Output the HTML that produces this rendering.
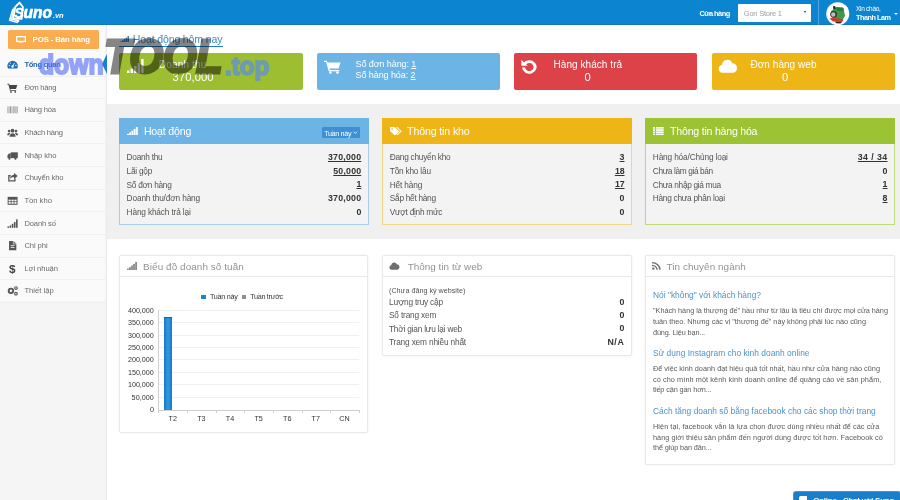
<!DOCTYPE html>
<html>
<head>
<meta charset="utf-8">
<title>Suno.vn</title>
<style>
*{box-sizing:border-box;margin:0;padding:0}
html,body{width:900px;height:500px;overflow:hidden;background:#fff}
body{font-family:"Liberation Sans",sans-serif;font-size:10px;color:#444;position:relative;filter:blur(.5px)}
.a{position:absolute}
.t{position:absolute;white-space:nowrap;line-height:1}
u{text-decoration:underline}
</style>
</head>
<body>
<div class="a" style="left:0.00px;top:0.00px;width:900.00px;height:25.00px;background:#0c85d0;"></div>
<div class="a" style="left:0.00px;top:24.00px;width:900.00px;height:1.00px;background:#1179ba;"></div>
<svg class="a" style="left:0.00px;top:0.00px" width="70.00" height="25.00" viewBox="0 0 70 25" ><g fill="none" stroke="#fff" stroke-linejoin="round" stroke-linecap="round">
<path d="M12.800 9.500 L9.600 20.200 L17 22.400 L18.600 20.800" stroke-width="1.500"/>
<path d="M14 8 L11.600 19.400 L18.600 20.800" stroke-width="1.300"/>
<path d="M15.300 6.800 L19.500 2.600 L22.900 7 L21.600 18.900 L13.300 18.700 Z" stroke-width="1.900" fill="#0c85d0"/></g>
<text x="14.500" y="17.700" font-family="Liberation Sans" font-weight="bold" font-style="italic" font-size="13.800" fill="#fff" stroke="#fff" stroke-width=".5">S</text>
<text x="23.600" y="17.500" font-family="Liberation Sans" font-weight="bold" font-style="italic" font-size="16.800" fill="#fff" stroke="#fff" stroke-width=".7" textLength="28.400" lengthAdjust="spacingAndGlyphs">uno</text>
<text x="52.900" y="17.500" font-family="Liberation Sans" font-weight="bold" font-style="italic" font-size="7.200" fill="#fff" textLength="10.800" lengthAdjust="spacingAndGlyphs">.vn</text></svg>
<div class="t" style="left:699.40px;top:9.94px;font-size:7.40px;color:#fff;letter-spacing:-0.531px;font-weight:bold;">Cửa hàng</div>
<div class="a" style="left:738.00px;top:3.60px;width:73.40px;height:18.80px;background:#fff;border-radius:1px"></div>
<div class="t" style="left:743.80px;top:10.05px;font-size:7.50px;color:#a0a0a0;letter-spacing:-0.222px;">Gon Store 1</div>
<div class="a" style="left:803.80px;top:11.40px;width:0;height:0;border-left:1.900px solid transparent;border-right:1.900px solid transparent;border-top:2.600px solid #222"></div>
<div class="a" style="left:818.30px;top:0.00px;width:1.00px;height:25.00px;background:#4fa6e0;"></div>
<svg class="a" style="left:826.00px;top:1.50px" width="23.50" height="23.50" viewBox="0 0 23.500 23.500" ><circle cx="11.750" cy="11.750" r="11.500" fill="#fdfdfd"/>
<path d="M5 9.500 L9 5.500 L17.500 6 L19 14 L16 18.500 L7 17 Z" fill="#3f9a48"/>
<path d="M10 5 L17 5.500 L18 9 L11 9 Z" fill="#2c7d3a"/>
<circle cx="7.600" cy="12.300" r="3.400" fill="#2f3338"/>
<circle cx="7.300" cy="12.500" r="2.200" fill="#b9bec4"/>
<path d="M3.500 16.500 L8 15.500 L17.500 17.500 L16 20 L7 19.500 Z" fill="#cf3a2e"/>
<path d="M7 4.200 L9.300 4 L9.600 7 L7.300 7.300 Z" fill="#23272b"/>
<path d="M9 19.500 L16 20 L14.500 21.500 L10 21.200 Z" fill="#2b2f34"/></svg>
<div class="t" style="left:856.00px;top:5.90px;font-size:6.50px;color:#fff;letter-spacing:-0.278px;">Xin chào,</div>
<div class="t" style="left:856.00px;top:14.02px;font-size:7.30px;color:#fff;letter-spacing:-0.492px;font-weight:bold;">Thanh Lam</div>
<div class="a" style="left:893.60px;top:13.20px;width:0;height:0;border-left:2.100px solid transparent;border-right:2.100px solid transparent;border-top:2.600px solid #fff"></div>
<div class="a" style="left:0.00px;top:25.00px;width:106.00px;height:475.00px;background:#f5f5f5;"></div>
<div class="a" style="left:0.00px;top:25.00px;width:106.00px;height:275.60px;background:#fafafa;"></div>
<div class="a" style="left:105.00px;top:25.00px;width:1.00px;height:475.00px;background:#f3f3f3;"></div>
<div class="a" style="left:106.00px;top:25.00px;width:1.00px;height:475.00px;background:#ebebeb;"></div>
<div class="a" style="left:8.10px;top:30.10px;width:90.80px;height:18.90px;background:#f9ad50;border-radius:1.500px"></div>
<svg class="a" style="left:16.00px;top:35.60px" width="10.00" height="7.60" viewBox="0 0 10 7.600" ><rect x=".65" y=".65" width="8.700" height="4.800" fill="none" stroke="#fff" stroke-width="1.300"/><rect x="3.200" y="6.400" width="3.600" height="1.200" fill="#fff"/></svg>
<div class="t" style="left:32.60px;top:36.40px;font-size:7.80px;color:#fff;letter-spacing:-0.110px;font-weight:bold;">POS - Bán hàng</div>
<svg class="a" style="left:7.00px;top:59.20px" width="11.20" height="11.20" viewBox="0 0 12 12" ><path d="M6 1.800a5.600 5.600 0 0 0-5.600 5.600c0 1.100.3 2 .8 2.800h9.600c.5-.8.800-1.700.8-2.800A5.600 5.600 0 0 0 6 1.800z" fill="#1f6db3"/><circle cx="6" cy="8" r="1.300" fill="#fafafa"/><path d="M6 8 L8 4.300" stroke="#fafafa" stroke-width="1"/><circle cx="2.500" cy="7" r=".7" fill="#fafafa"/><circle cx="3.600" cy="4.400" r=".7" fill="#fafafa"/><circle cx="9.500" cy="7" r=".7" fill="#fafafa"/></svg>
<div class="t" style="left:24.40px;top:61.17px;font-size:7.60px;color:#2365ad;letter-spacing:-0.281px;font-weight:bold;">Tổng quan</div>
<div class="a" style="left:0.00px;top:75.61px;width:106.00px;height:1.00px;background:#f0f0f0;"></div>
<svg class="a" style="left:7.00px;top:81.82px" width="11.20" height="11.20" viewBox="0 0 12 12" ><path d="M0.500 2h1.800l.4 1.300h8.300l-1.300 4.200H3.600l.3 1h6v1H3.200L1.600 3H.5z" fill="#444"/><circle cx="4.300" cy="10.600" r=".9" fill="#444"/><circle cx="8.800" cy="10.600" r=".9" fill="#444"/></svg>
<div class="t" style="left:24.40px;top:83.79px;font-size:7.60px;color:#6a6a6a;letter-spacing:-0.227px;">Đơn hàng</div>
<div class="a" style="left:0.00px;top:98.23px;width:106.00px;height:1.00px;background:#f0f0f0;"></div>
<svg class="a" style="left:7.00px;top:104.44px" width="11.20" height="11.20" viewBox="0 0 12 12" ><g fill="#9a9a9a"><rect x=".5" y="2.500" width="1" height="7.500"/><rect x="2" y="2.500" width=".6" height="7.500"/><rect x="3.200" y="2.500" width="1.200" height="7.500"/><rect x="5" y="2.500" width=".6" height="7.500"/><rect x="6.200" y="2.500" width="1" height="7.500"/><rect x="7.800" y="2.500" width=".6" height="7.500"/><rect x="9" y="2.500" width="1.200" height="7.500"/><rect x="10.800" y="2.500" width=".7" height="7.500"/></g></svg>
<div class="t" style="left:24.40px;top:106.41px;font-size:7.60px;color:#6a6a6a;letter-spacing:-0.182px;">Hàng hóa</div>
<div class="a" style="left:0.00px;top:120.85px;width:106.00px;height:1.00px;background:#f0f0f0;"></div>
<svg class="a" style="left:7.00px;top:127.06px" width="11.20" height="11.20" viewBox="0 0 12 12" ><g fill="#555"><circle cx="6" cy="4" r="2"/><path d="M2.800 10.500c0-2.400 1.300-3.800 3.200-3.800s3.200 1.400 3.200 3.800z"/><circle cx="2.300" cy="4.300" r="1.400"/><circle cx="9.700" cy="4.300" r="1.400"/><path d="M.2 8.800c0-1.600.9-2.600 2.200-2.600.5 0 .9.100 1.200.4-.8.600-1.300 1.400-1.400 2.200z"/><path d="M11.800 8.800c0-1.600-.9-2.600-2.200-2.600-.5 0-.9.100-1.200.4.800.6 1.300 1.400 1.400 2.200z"/></g></svg>
<div class="t" style="left:24.40px;top:129.03px;font-size:7.60px;color:#6a6a6a;letter-spacing:-0.206px;">Khách hàng</div>
<div class="a" style="left:0.00px;top:143.47px;width:106.00px;height:1.00px;background:#f0f0f0;"></div>
<svg class="a" style="left:7.00px;top:149.68px" width="11.20" height="11.20" viewBox="0 0 12 12" ><g fill="#555"><rect x="4" y="2.500" width="7.600" height="6.200"/><path d="M.5 5.800L2 3.800h2v4.900H.5z"/><circle cx="2.600" cy="9.300" r="1.200"/><circle cx="9" cy="9.300" r="1.200"/></g></svg>
<div class="t" style="left:24.40px;top:151.65px;font-size:7.60px;color:#6a6a6a;letter-spacing:-0.066px;">Nhập kho</div>
<div class="a" style="left:0.00px;top:166.09px;width:106.00px;height:1.00px;background:#f0f0f0;"></div>
<svg class="a" style="left:7.00px;top:172.30px" width="11.20" height="11.20" viewBox="0 0 12 12" ><path d="M8.500 6.800v2.800h-6.500v-5.600h2" fill="none" stroke="#555" stroke-width="1.400"/><path d="M7.500 1l4 3.200-4 3.200v-2c-2.200 0-3.400.8-4.200 2.300.2-3 1.600-4.600 4.200-4.800z" fill="#555"/></svg>
<div class="t" style="left:24.40px;top:174.27px;font-size:7.60px;color:#6a6a6a;letter-spacing:-0.156px;">Chuyển kho</div>
<div class="a" style="left:0.00px;top:188.71px;width:106.00px;height:1.00px;background:#f0f0f0;"></div>
<svg class="a" style="left:7.00px;top:194.92px" width="11.20" height="11.20" viewBox="0 0 12 12" ><rect x=".7" y="2" width="10.600" height="8.500" fill="#555"/><g fill="#fafafa"><rect x="1.700" y="5" width="2.300" height="1.800"/><rect x="4.800" y="5" width="2.300" height="1.800"/><rect x="7.900" y="5" width="2.300" height="1.800"/><rect x="1.700" y="7.600" width="2.300" height="1.800"/><rect x="4.800" y="7.600" width="2.300" height="1.800"/><rect x="7.900" y="7.600" width="2.300" height="1.800"/></g></svg>
<div class="t" style="left:24.40px;top:196.89px;font-size:7.60px;color:#6a6a6a;letter-spacing:0.006px;">Tồn kho</div>
<div class="a" style="left:0.00px;top:211.33px;width:106.00px;height:1.00px;background:#f0f0f0;"></div>
<svg class="a" style="left:7.00px;top:217.54px" width="11.20" height="11.20" viewBox="0 0 12 12" ><g fill="#555"><rect x=".5" y="9" width="1.700" height="1.500"/><rect x="2.800" y="8" width="1.700" height="2.500"/><rect x="5.100" y="6.300" width="1.700" height="4.200"/><rect x="7.400" y="4.300" width="1.700" height="6.200"/><rect x="9.700" y="1.500" width="1.700" height="9"/></g></svg>
<div class="t" style="left:24.40px;top:219.51px;font-size:7.60px;color:#6a6a6a;letter-spacing:-0.129px;">Doanh số</div>
<div class="a" style="left:0.00px;top:233.95px;width:106.00px;height:1.00px;background:#f0f0f0;"></div>
<svg class="a" style="left:7.00px;top:240.16px" width="11.20" height="11.20" viewBox="0 0 12 12" ><path d="M2.200 1h4.800l3 3v7h-7.800z" fill="#555"/><path d="M4 6h4M4 8h4" stroke="#fafafa" stroke-width=".9"/><path d="M6.800 1v3.200h3.200" fill="none" stroke="#fafafa" stroke-width=".7"/></svg>
<div class="t" style="left:24.40px;top:242.13px;font-size:7.60px;color:#6a6a6a;letter-spacing:-0.083px;">Chi phí</div>
<div class="a" style="left:0.00px;top:256.57px;width:106.00px;height:1.00px;background:#f0f0f0;"></div>
<svg class="a" style="left:7.00px;top:262.78px" width="11.20" height="11.20" viewBox="0 0 12 12" ><text x="2.200" y="11" font-family="Liberation Sans" font-weight="bold" font-size="12.500" fill="#444">$</text></svg>
<div class="t" style="left:24.40px;top:264.75px;font-size:7.60px;color:#6a6a6a;letter-spacing:-0.071px;">Lợi nhuận</div>
<div class="a" style="left:0.00px;top:279.19px;width:106.00px;height:1.00px;background:#f0f0f0;"></div>
<svg class="a" style="left:7.00px;top:285.40px" width="11.20" height="11.20" viewBox="0 0 12 12" ><g fill="#555"><circle cx="4.200" cy="6.300" r="3.400"/><circle cx="9.600" cy="3.300" r="2"/><circle cx="9.600" cy="9.300" r="2"/></g><circle cx="4.200" cy="6.300" r="1.400" fill="#fafafa"/><circle cx="9.600" cy="3.300" r=".8" fill="#fafafa"/><circle cx="9.600" cy="9.300" r=".8" fill="#fafafa"/></svg>
<div class="t" style="left:24.40px;top:287.37px;font-size:7.60px;color:#6a6a6a;letter-spacing:0.039px;">Thiết lập</div>
<div class="a" style="left:0.00px;top:301.81px;width:106.00px;height:1.00px;background:#f0f0f0;"></div>
<div class="a" style="left:101.80px;top:53.50px;width:0;height:0;border-top:10.200px solid transparent;border-bottom:10.200px solid transparent;border-right:5.400px solid #1b7fcb"></div>
<svg class="a" style="left:119.80px;top:35.60px" width="9.20" height="6.80" viewBox="0 0 10 10" preserveAspectRatio="none"><g fill="#3d87c6"><rect x="0" y="8" width="1.800" height="2"/><rect x="2.050" y="6.300" width="1.800" height="3.700"/><rect x="4.100" y="4.300" width="1.800" height="5.700"/><rect x="6.150" y="2.300" width="1.800" height="7.700"/><rect x="8.200" y="0" width="1.800" height="10"/></g></svg>
<div class="t" style="left:132.80px;top:33.63px;font-size:10.60px;color:#4189c7;letter-spacing:-0.177px;">Hoạt động hôm nay</div>
<div class="a" style="left:119.00px;top:45.60px;width:104.00px;height:1.80px;background:#1b7fcb;"></div>
<div class="a" style="left:119.00px;top:53.00px;width:183.80px;height:37.00px;background:#9cbe30;border-radius:2px"></div>
<div class="a" style="left:317.00px;top:53.00px;width:183.40px;height:37.00px;background:#6cb4e6;border-radius:2px"></div>
<div class="a" style="left:513.80px;top:53.00px;width:183.20px;height:37.00px;background:#dd4249;border-radius:2px"></div>
<div class="a" style="left:711.80px;top:53.00px;width:183.20px;height:37.00px;background:#edb515;border-radius:2px"></div>
<svg class="a" style="left:126.70px;top:59.30px" width="17.30" height="14.00" viewBox="0 0 18 16" preserveAspectRatio="none"><g fill="#fff"><rect x="0" y="13" width="2.500" height="3"/><rect x="3.700" y="11" width="2.500" height="5"/><rect x="7.400" y="8" width="2.500" height="8"/><rect x="11.100" y="4.500" width="2.500" height="11.500"/><rect x="14.800" y="0" width="2.500" height="16"/></g></svg>
<div class="t" style="left:158.80px;top:59.53px;font-size:10.00px;color:#fff;letter-spacing:0.173px;">Doanh thu</div>
<div class="t" style="left:172.50px;top:71.52px;font-size:11.20px;color:#fff;letter-spacing:0.103px;">370,000</div>
<svg class="a" style="left:323.70px;top:59.60px" width="17.30" height="14.10" viewBox="0 0 19 17" preserveAspectRatio="none"><path d="M0 .8h3.200l.7 2.200h14.300l-2.200 7.400H6l.5 1.600h10.300v1.600H5.200L2.300 2.400H0z" fill="#fff"/><circle cx="7" cy="15.200" r="1.500" fill="#fff"/><circle cx="14.800" cy="15.200" r="1.500" fill="#fff"/></svg>
<div class="t" style="left:355.50px;top:60.38px;font-size:9.00px;color:#fff;letter-spacing:-0.089px;">Số đơn hàng: <u>1</u></div>
<div class="t" style="left:355.50px;top:71.38px;font-size:9.00px;color:#fff;letter-spacing:-0.075px;">Số hàng hóa: <u>2</u></div>
<svg class="a" style="left:520.80px;top:59.00px" width="16.60" height="15.40" viewBox="0 0 16 16" preserveAspectRatio="none"><path d="M3.300 5.200A5.600 5.600 0 1 1 2.400 8.800" fill="none" stroke="#fff" stroke-width="2.900"/><path d="M.3 .8v6.200h6.200z" fill="#fff"/></svg>
<div class="t" style="left:553.50px;top:59.63px;font-size:10.00px;color:#fff;letter-spacing:0.063px;">Hàng khách trả</div>
<div class="t" style="left:584.59px;top:71.52px;font-size:11.20px;color:#fff;">0</div>
<svg class="a" style="left:718.40px;top:58.80px" width="19.80" height="13.80" viewBox="0 0 20 14" preserveAspectRatio="none"><path d="M4.500 14a4 4 0 0 1-.6-7.900A5.500 5.500 0 0 1 14.500 4.300 4.900 4.900 0 0 1 15.200 14z" fill="#fff"/></svg>
<div class="t" style="left:750.50px;top:59.63px;font-size:10.00px;color:#fff;letter-spacing:0.043px;">Đơn hàng web</div>
<div class="t" style="left:782.09px;top:71.52px;font-size:11.20px;color:#fff;">0</div>
<div class="a" style="left:107.00px;top:104.30px;width:793.00px;height:134.30px;background:#f0f0f0;"></div>
<div class="a" style="left:119.00px;top:117.80px;width:249.60px;height:107.40px;background:#f3f3f3;border:1px solid #a6cdee"></div>
<div class="a" style="left:119.00px;top:117.80px;width:249.60px;height:25.80px;background:#6cb4e6;"></div>
<svg class="a" style="left:127.30px;top:126.50px" width="10.80" height="8.60" viewBox="0 0 10 10" preserveAspectRatio="none"><g fill="#fff"><rect x="0" y="8" width="1.800" height="2"/><rect x="2.050" y="6.300" width="1.800" height="3.700"/><rect x="4.100" y="4.300" width="1.800" height="5.700"/><rect x="6.150" y="2.300" width="1.800" height="7.700"/><rect x="8.200" y="0" width="1.800" height="10"/></g></svg>
<div class="t" style="left:143.90px;top:125.93px;font-size:10.60px;color:#fff;letter-spacing:-0.168px;">Hoạt động</div>
<div class="t" style="left:126.60px;top:153.47px;font-size:8.30px;color:#555;letter-spacing:-0.278px;">Doanh thu</div>
<div class="t" style="left:328.00px;top:153.35px;font-size:8.80px;color:#333;letter-spacing:0.213px;font-weight:bold;text-decoration:underline;">370,000</div>
<div class="t" style="left:126.60px;top:167.02px;font-size:8.30px;color:#555;letter-spacing:-0.247px;">Lãi gộp</div>
<div class="t" style="left:333.30px;top:166.90px;font-size:8.80px;color:#333;letter-spacing:0.181px;font-weight:bold;text-decoration:underline;">50,000</div>
<div class="t" style="left:126.60px;top:180.57px;font-size:8.30px;color:#555;letter-spacing:-0.264px;">Số đơn hàng</div>
<div class="t" style="left:356.41px;top:180.45px;font-size:8.80px;color:#333;font-weight:bold;text-decoration:underline;">1</div>
<div class="t" style="left:126.60px;top:194.12px;font-size:8.30px;color:#555;letter-spacing:-0.142px;">Doanh thu/đơn hàng</div>
<div class="t" style="left:328.00px;top:194.00px;font-size:8.80px;color:#333;letter-spacing:0.213px;font-weight:bold;">370,000</div>
<div class="t" style="left:126.60px;top:207.67px;font-size:8.30px;color:#555;letter-spacing:-0.161px;">Hàng khách trả lại</div>
<div class="t" style="left:356.41px;top:207.55px;font-size:8.80px;color:#333;font-weight:bold;">0</div>
<div class="a" style="left:321.60px;top:126.50px;width:38.30px;height:11.50px;background:#3f8fd5;border-radius:1px"></div>
<div class="t" style="left:324.20px;top:129.51px;font-size:7.20px;color:#fff;letter-spacing:-0.344px;">Tuần này</div>
<svg class="a" style="left:353.20px;top:131.00px" width="4.60" height="3.40" viewBox="0 0 5 4" ><path d="M.5 .8L2.500 3 4.500 .8" fill="none" stroke="#fff" stroke-width=".9"/></svg>
<div class="a" style="left:382.20px;top:117.80px;width:249.60px;height:107.40px;background:#f3f3f3;border:1px solid #f2d688"></div>
<div class="a" style="left:382.20px;top:117.80px;width:249.60px;height:25.80px;background:#edb515;"></div>
<svg class="a" style="left:389.80px;top:126.60px" width="11.80" height="8.60" viewBox="0 0 12 9.600" preserveAspectRatio="none"><path d="M0 0h4.600l5 5-4.600 4.600-5-5z" fill="#fff"/><path d="M6 0h1.400l4.600 4.800-4.600 4.800-.7-.7 3.900-4.100z" fill="#fff"/><circle cx="2.200" cy="2.200" r=".9" fill="#edb515"/></svg>
<div class="t" style="left:407.10px;top:125.93px;font-size:10.60px;color:#fff;letter-spacing:-0.133px;">Thông tin kho</div>
<div class="t" style="left:389.80px;top:153.47px;font-size:8.30px;color:#555;letter-spacing:-0.266px;">Đang chuyển kho</div>
<div class="t" style="left:619.61px;top:153.35px;font-size:8.80px;color:#333;font-weight:bold;text-decoration:underline;">3</div>
<div class="t" style="left:389.80px;top:167.02px;font-size:8.30px;color:#555;letter-spacing:-0.215px;">Tồn kho lâu</div>
<div class="t" style="left:614.90px;top:166.90px;font-size:8.80px;color:#333;letter-spacing:-0.094px;font-weight:bold;text-decoration:underline;">18</div>
<div class="t" style="left:389.80px;top:180.57px;font-size:8.30px;color:#555;letter-spacing:-0.173px;">Hết hàng</div>
<div class="t" style="left:614.90px;top:180.45px;font-size:8.80px;color:#333;letter-spacing:-0.094px;font-weight:bold;text-decoration:underline;">17</div>
<div class="t" style="left:389.80px;top:194.12px;font-size:8.30px;color:#555;letter-spacing:-0.282px;">Sắp hết hàng</div>
<div class="t" style="left:619.61px;top:194.00px;font-size:8.80px;color:#333;font-weight:bold;">0</div>
<div class="t" style="left:389.80px;top:207.67px;font-size:8.30px;color:#555;letter-spacing:-0.259px;">Vượt định mức</div>
<div class="t" style="left:619.61px;top:207.55px;font-size:8.80px;color:#333;font-weight:bold;">0</div>
<div class="a" style="left:645.20px;top:117.80px;width:249.60px;height:107.40px;background:#f3f3f3;border:1px solid #bedb78"></div>
<div class="a" style="left:645.20px;top:117.80px;width:249.60px;height:25.80px;background:#9cc334;"></div>
<svg class="a" style="left:653.30px;top:126.60px" width="10.70" height="8.30" viewBox="0 0 12 10" preserveAspectRatio="none"><g fill="#fff"><rect x="0" y="0" width="2.200" height="2"/><rect x="3.200" y="0" width="8.800" height="2"/><rect x="0" y="2.700" width="2.200" height="2"/><rect x="3.200" y="2.700" width="8.800" height="2"/><rect x="0" y="5.400" width="2.200" height="2"/><rect x="3.200" y="5.400" width="8.800" height="2"/><rect x="0" y="8.100" width="2.200" height="1.900"/><rect x="3.200" y="8.100" width="8.800" height="1.900"/></g></svg>
<div class="t" style="left:670.10px;top:125.93px;font-size:10.60px;color:#fff;letter-spacing:-0.230px;">Thông tin hàng hóa</div>
<div class="t" style="left:652.80px;top:153.47px;font-size:8.30px;color:#555;letter-spacing:-0.157px;">Hàng hóa/Chủng loại</div>
<div class="t" style="left:857.80px;top:153.35px;font-size:8.80px;color:#333;letter-spacing:0.399px;font-weight:bold;text-decoration:underline;">34 / 34</div>
<div class="t" style="left:652.80px;top:167.02px;font-size:8.30px;color:#555;letter-spacing:-0.375px;">Chưa làm giá bán</div>
<div class="t" style="left:882.61px;top:166.90px;font-size:8.80px;color:#333;font-weight:bold;">0</div>
<div class="t" style="left:652.80px;top:180.57px;font-size:8.30px;color:#555;letter-spacing:-0.317px;">Chưa nhập giá mua</div>
<div class="t" style="left:882.61px;top:180.45px;font-size:8.80px;color:#333;font-weight:bold;text-decoration:underline;">1</div>
<div class="t" style="left:652.80px;top:194.12px;font-size:8.30px;color:#555;letter-spacing:-0.267px;">Hàng chưa phân loại</div>
<div class="t" style="left:882.61px;top:194.00px;font-size:8.80px;color:#333;font-weight:bold;text-decoration:underline;">8</div>
<div class="a" style="left:119.00px;top:255.00px;width:249.40px;height:177.60px;background:#fff;border:1px solid #e9e9e9;border-radius:2px;box-shadow:0 0 2.500px rgba(0,0,0,.07)"></div>
<div class="a" style="left:120.00px;top:276.20px;width:247.40px;height:1.00px;background:#e8e8e8;"></div>
<div class="t" style="left:143.10px;top:262.02px;font-size:9.90px;color:#929292;letter-spacing:0.092px;">Biểu đồ doanh số tuần</div>
<svg class="a" style="left:126.80px;top:261.80px" width="10.00" height="8.20" viewBox="0 0 10 10" preserveAspectRatio="none"><g fill="#8a8a8a"><rect x="0" y="8" width="1.800" height="2"/><rect x="2.050" y="6.300" width="1.800" height="3.700"/><rect x="4.100" y="4.300" width="1.800" height="5.700"/><rect x="6.150" y="2.300" width="1.800" height="7.700"/><rect x="8.200" y="0" width="1.800" height="10"/></g></svg>
<div class="a" style="left:201.40px;top:294.60px;width:4.40px;height:4.40px;background:#1b86d0;"></div>
<div class="t" style="left:210.00px;top:292.91px;font-size:7.20px;color:#333;letter-spacing:-0.281px;">Tuần này</div>
<div class="a" style="left:241.90px;top:294.60px;width:4.20px;height:4.40px;background:#8e8e8e;"></div>
<div class="t" style="left:250.20px;top:292.91px;font-size:7.20px;color:#333;letter-spacing:-0.288px;">Tuần trước</div>
<div class="a" style="left:158.80px;top:309.70px;width:200.50px;height:1.00px;background:#f1f1f1;"></div>
<div class="a" style="left:158.80px;top:322.12px;width:200.50px;height:1.00px;background:#f1f1f1;"></div>
<div class="a" style="left:158.80px;top:334.54px;width:200.50px;height:1.00px;background:#f1f1f1;"></div>
<div class="a" style="left:158.80px;top:346.96px;width:200.50px;height:1.00px;background:#f1f1f1;"></div>
<div class="a" style="left:158.80px;top:359.38px;width:200.50px;height:1.00px;background:#f1f1f1;"></div>
<div class="a" style="left:158.80px;top:371.80px;width:200.50px;height:1.00px;background:#f1f1f1;"></div>
<div class="a" style="left:158.80px;top:384.22px;width:200.50px;height:1.00px;background:#f1f1f1;"></div>
<div class="a" style="left:158.80px;top:396.64px;width:200.50px;height:1.00px;background:#f1f1f1;"></div>
<div class="a" style="left:158.30px;top:310.00px;width:1.00px;height:100.50px;background:#cfcfcf;"></div>
<div class="a" style="left:158.30px;top:409.60px;width:201.00px;height:1.00px;background:#cfcfcf;"></div>
<div class="a" style="left:158.30px;top:409.60px;width:1.00px;height:3.40px;background:#cfcfcf;"></div>
<div class="a" style="left:186.95px;top:409.60px;width:1.00px;height:3.40px;background:#cfcfcf;"></div>
<div class="a" style="left:215.60px;top:409.60px;width:1.00px;height:3.40px;background:#cfcfcf;"></div>
<div class="a" style="left:244.25px;top:409.60px;width:1.00px;height:3.40px;background:#cfcfcf;"></div>
<div class="a" style="left:272.90px;top:409.60px;width:1.00px;height:3.40px;background:#cfcfcf;"></div>
<div class="a" style="left:301.55px;top:409.60px;width:1.00px;height:3.40px;background:#cfcfcf;"></div>
<div class="a" style="left:330.20px;top:409.60px;width:1.00px;height:3.40px;background:#cfcfcf;"></div>
<div class="a" style="left:358.85px;top:409.60px;width:1.00px;height:3.40px;background:#cfcfcf;"></div>
<div class="a" style="left:164.00px;top:317.30px;width:8.20px;height:92.30px;background:linear-gradient(90deg,#1a78c2 0%,#2f9be0 50%,#1a78c2 100%);border-top:1px solid #155f9c"></div>
<div class="t" style="left:127.90px;top:306.81px;font-size:7.20px;color:#333;letter-spacing:-0.003px;">400,000</div>
<div class="t" style="left:127.90px;top:319.23px;font-size:7.20px;color:#333;letter-spacing:-0.003px;">350,000</div>
<div class="t" style="left:127.90px;top:331.65px;font-size:7.20px;color:#333;letter-spacing:-0.003px;">300,000</div>
<div class="t" style="left:127.90px;top:344.07px;font-size:7.20px;color:#333;letter-spacing:-0.003px;">250,000</div>
<div class="t" style="left:127.90px;top:356.49px;font-size:7.20px;color:#333;letter-spacing:-0.003px;">200,000</div>
<div class="t" style="left:127.90px;top:368.91px;font-size:7.20px;color:#333;letter-spacing:-0.003px;">150,000</div>
<div class="t" style="left:127.90px;top:381.33px;font-size:7.20px;color:#333;letter-spacing:-0.003px;">100,000</div>
<div class="t" style="left:131.60px;top:393.75px;font-size:7.20px;color:#333;letter-spacing:0.047px;">50,000</div>
<div class="t" style="left:149.90px;top:406.17px;font-size:7.20px;color:#333;letter-spacing:-0.004px;">0</div>
<div class="t" style="left:168.60px;top:415.11px;font-size:7.20px;color:#333;">T2</div>
<div class="t" style="left:197.20px;top:415.11px;font-size:7.20px;color:#333;">T3</div>
<div class="t" style="left:225.80px;top:415.11px;font-size:7.20px;color:#333;">T4</div>
<div class="t" style="left:254.40px;top:415.11px;font-size:7.20px;color:#333;">T5</div>
<div class="t" style="left:283.00px;top:415.11px;font-size:7.20px;color:#333;">T6</div>
<div class="t" style="left:311.60px;top:415.11px;font-size:7.20px;color:#333;">T7</div>
<div class="t" style="left:339.20px;top:415.11px;font-size:7.20px;color:#333;">CN</div>
<div class="a" style="left:382.40px;top:255.00px;width:249.40px;height:100.60px;background:#fff;border:1px solid #e9e9e9;border-radius:2px;box-shadow:0 0 2.500px rgba(0,0,0,.07)"></div>
<div class="a" style="left:383.40px;top:276.20px;width:247.40px;height:1.00px;background:#e8e8e8;"></div>
<div class="t" style="left:407.70px;top:262.02px;font-size:9.90px;color:#929292;letter-spacing:0.031px;">Thông tin từ web</div>
<svg class="a" style="left:389.40px;top:262.10px" width="11.00" height="7.70" viewBox="0 0 20 14" preserveAspectRatio="none"><path d="M4.500 14a4 4 0 0 1-.6-7.900A5.500 5.500 0 0 1 14.500 4.300 4.900 4.900 0 0 1 15.200 14z" fill="#6e6e6e"/></svg>
<div class="t" style="left:389.00px;top:287.41px;font-size:7.20px;color:#555;letter-spacing:0.002px;">(Chưa đăng ký website)</div>
<div class="t" style="left:389.00px;top:297.87px;font-size:8.30px;color:#555;letter-spacing:-0.198px;">Lượng truy cập</div>
<div class="t" style="left:619.51px;top:297.75px;font-size:8.80px;color:#333;font-weight:bold;">0</div>
<div class="t" style="left:389.00px;top:311.22px;font-size:8.30px;color:#555;letter-spacing:-0.172px;">Số trang xem</div>
<div class="t" style="left:619.51px;top:311.10px;font-size:8.80px;color:#333;font-weight:bold;">0</div>
<div class="t" style="left:389.00px;top:324.57px;font-size:8.30px;color:#555;letter-spacing:-0.211px;">Thời gian lưu lại web</div>
<div class="t" style="left:619.51px;top:324.45px;font-size:8.80px;color:#333;font-weight:bold;">0</div>
<div class="t" style="left:389.00px;top:337.92px;font-size:8.30px;color:#555;letter-spacing:-0.171px;">Trang xem nhiều nhất</div>
<div class="t" style="left:607.40px;top:337.80px;font-size:8.80px;color:#333;letter-spacing:0.615px;font-weight:bold;">N/A</div>
<div class="a" style="left:645.20px;top:255.00px;width:249.40px;height:209.80px;background:#fff;border:1px solid #e9e9e9;border-radius:2px;box-shadow:0 0 2.500px rgba(0,0,0,.07)"></div>
<div class="a" style="left:646.20px;top:276.20px;width:247.40px;height:1.00px;background:#e8e8e8;"></div>
<div class="t" style="left:666.60px;top:262.02px;font-size:9.90px;color:#929292;letter-spacing:0.067px;">Tin chuyên ngành</div>
<svg class="a" style="left:652.00px;top:262.00px" width="8.80" height="7.80" viewBox="0 0 9 9" preserveAspectRatio="none"><circle cx="1.300" cy="7.700" r="1.300" fill="#6e6e6e"/><path d="M0 3.800a5.200 5.200 0 0 1 5.200 5.200M0 .8a8.200 8.200 0 0 1 8.200 8.200" fill="none" stroke="#6e6e6e" stroke-width="1.500"/></svg>
<div class="t" style="left:653.00px;top:290.79px;font-size:8.40px;color:#4a92cf;letter-spacing:0.006px;">Nói "không" với khách hàng?</div>
<div class="t" style="left:653.00px;top:307.12px;font-size:7.30px;color:#5a5a5a;letter-spacing:-0.032px;">"Khách hàng là thượng đế" hầu như từ lâu là tiêu chí được mọi cửa hàng</div>
<div class="t" style="left:653.00px;top:317.82px;font-size:7.30px;color:#5a5a5a;letter-spacing:-0.011px;">tuân theo. Nhưng các vị "thượng đế" này không phải lúc nào cũng</div>
<div class="t" style="left:653.00px;top:328.52px;font-size:7.30px;color:#5a5a5a;letter-spacing:-0.140px;">đúng. Liệu bạn...</div>
<div class="t" style="left:653.00px;top:348.99px;font-size:8.40px;color:#4a92cf;letter-spacing:0.026px;">Sử dụng Instagram cho kinh doanh online</div>
<div class="t" style="left:653.00px;top:364.82px;font-size:7.30px;color:#5a5a5a;letter-spacing:0.002px;">Để việc kinh doanh đạt hiệu quả tốt nhất, hầu như cửa hàng nào cũng</div>
<div class="t" style="left:653.00px;top:375.52px;font-size:7.30px;color:#5a5a5a;letter-spacing:0.083px;">có cho mình một kênh kinh doanh online để quảng cáo về sản phẩm,</div>
<div class="t" style="left:653.00px;top:386.22px;font-size:7.30px;color:#5a5a5a;letter-spacing:-0.121px;">tiếp cận gần hơn...</div>
<div class="t" style="left:653.00px;top:406.89px;font-size:8.40px;color:#4a92cf;letter-spacing:0.013px;">Cách tăng doanh số bằng facebook cho các shop thời trang</div>
<div class="t" style="left:653.00px;top:423.02px;font-size:7.30px;color:#5a5a5a;letter-spacing:0.063px;">Hiện tại, facebook vẫn là lựa chọn được dùng nhiều nhất để các cửa</div>
<div class="t" style="left:653.00px;top:433.72px;font-size:7.30px;color:#5a5a5a;letter-spacing:0.053px;">hàng giới thiệu sản phẩm đến người dùng được tốt hơn. Facebook có</div>
<div class="t" style="left:653.00px;top:444.42px;font-size:7.30px;color:#5a5a5a;letter-spacing:-0.104px;">thể giúp bạn đăn...</div>
<div class="a" style="left:792.70px;top:491.30px;width:108.00px;height:10.00px;background:#1a7fcb;border-radius:3px 3px 0 0;border:1px solid #3f97d9;border-bottom:0"></div>
<svg class="a" style="left:798.70px;top:496.00px" width="8.60" height="7.00" viewBox="0 0 9 8" preserveAspectRatio="none"><rect x="0" y="0" width="9" height="6" rx="1.800" fill="#fff"/></svg>
<div class="t" style="left:813.30px;top:496.53px;font-size:8.00px;color:#fff;letter-spacing:-0.267px;font-weight:bold;">Online - Chat với Suno</div>
<div class="t" id="wm1" style="left:38.70px;top:50.72px;font-size:27.500px;font-weight:bold;color:#5d75f7;-webkit-text-stroke:2px #5d75f7;opacity:.65;transform-origin:0 0;transform:scaleX(.9)">down</div>
<div class="t" id="wm2" style="left:104px;top:33.37px;font-size:48px;font-weight:bold;font-style:italic;color:#858585;-webkit-text-stroke:3px #858585;mix-blend-mode:multiply;transform-origin:0 100%;transform:scaleX(.905);letter-spacing:-.5px">TOOL</div>
<div class="t" id="wm3" style="left:224.700px;top:54.21px;font-size:25.500px;font-weight:bold;color:#5586ff;-webkit-text-stroke:1.800px #5586ff;opacity:.62;transform-origin:0 0;transform:scaleX(.95)">.top</div>
</body>
</html>
